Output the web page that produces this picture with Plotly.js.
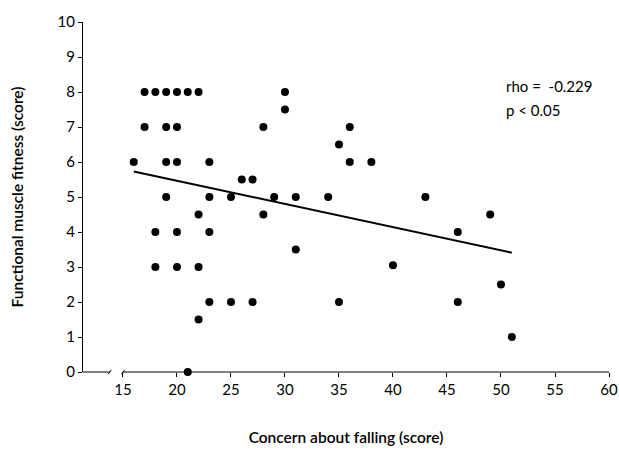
<!DOCTYPE html>
<html>
<head>
<meta charset="utf-8">
<script src="https://cdn.plot.ly/plotly-3.0.1.min.js"></script>
<style>html,body{margin:0;padding:0;background:#fff}#chart{width:619px;height:450px}</style>
</head>
<body>
<div id="chart"></div>
<script>
// Concern about falling (score)
var concernScores = [
  17,18,19,20,21,22,30,
  30,
  17,19,20,28,36,
  35,
  16,19,20,23,36,38,
  26,27,
  19,23,25,29,31,34,43,
  22,28,49,
  18,20,23,46,
  31,
  18,20,22,40,
  50,
  23,25,27,35,46,
  22,
  51,
  21
];
// Functional muscle fitness (score)
var fitnessScores = [
  8,8,8,8,8,8,8,
  7.5,
  7,7,7,7,7,
  6.5,
  6,6,6,6,6,6,
  5.5,5.5,
  5,5,5,5,5,5,5,
  4.5,4.5,4.5,
  4,4,4,4,
  3.5,
  3,3,3,3.05,
  2.5,
  2,2,2,2,2,
  1.5,
  1,
  0
];
// Regression line endpoints
var fitX = [16, 51];
var fitY = [5.73, 3.41];
var xTicks = [15,20,25,30,35,40,45,50,55,60];
var yTicks = [0,1,2,3,4,5,6,7,8,9,10];
var statsText = ["rho =  -0.229", "p < 0.05"];

var FONT = "Lato, 'Open Sans', sans-serif";

var traces = [
  {x: concernScores, y: fitnessScores, type: 'scatter', mode: 'markers',
   marker: {color: '#000', size: 8}, cliponaxis: false, hoverinfo: 'x+y'},
  {x: fitX, y: fitY, type: 'scatter', mode: 'lines',
   line: {color: '#000', width: 2}, hoverinfo: 'skip'}
];

var layout = {
  width: 619, height: 450,
  margin: {l: 83, r: 10, t: 22, b: 78},
  paper_bgcolor: '#fff', plot_bgcolor: '#fff',
  showlegend: false,
  font: {family: FONT, size: 15, color: '#000'},
  xaxis: {
    range: [11.3, 60], tickvals: xTicks, ticktext: xTicks.map(String),
    showgrid: false, zeroline: false, showline: false,
    ticks: 'outside', ticklen: 4, tickcolor: '#000', tickwidth: 1,
    tickfont: {family: FONT, size: 15, color: '#000'},
    title: {text: 'Concern about falling (score)', standoff: 35,
            font: {family: FONT, size: 15.5, color: '#000', weight: 600}},
    automargin: false
  },
  yaxis: {
    range: [0, 10], tickvals: yTicks,
    showgrid: false, zeroline: false, showline: true, linecolor: '#000', linewidth: 1,
    ticks: 'outside', ticklen: 4, tickcolor: '#000', tickwidth: 1,
    tickfont: {family: FONT, size: 15, color: '#000'},
    title: {text: 'Functional muscle fitness (score)', standoff: 30,
            font: {family: FONT, size: 15.5, color: '#000', weight: 600}},
    automargin: false
  },
  shapes: [
    {type: 'line', xref: 'paper', yref: 'paper', x0: 0, x1: 0.051, y0: 0, y1: 0,
     line: {color: '#000', width: 1}},
    {type: 'line', xref: 'paper', yref: 'paper', x0: 0.076, x1: 1, y0: 0, y1: 0,
     line: {color: '#000', width: 1}},
    {type: 'line', xref: 'paper', yref: 'paper', x0: 0.048, x1: 0.054, y0: -0.006, y1: 0.006,
     line: {color: '#000', width: 1}},
    {type: 'line', xref: 'paper', yref: 'paper', x0: 0.073, x1: 0.079, y0: -0.006, y1: 0.006,
     line: {color: '#000', width: 1}}
  ],
  annotations: [
    {xref: 'paper', yref: 'paper', x: 0.80, y: 0.818, xanchor: 'left', yanchor: 'middle',
     text: statsText[0], showarrow: false, font: {family: FONT, size: 15, color: '#000'}},
    {xref: 'paper', yref: 'paper', x: 0.80, y: 0.748, xanchor: 'left', yanchor: 'middle',
     text: statsText[1], showarrow: false, font: {family: FONT, size: 15, color: '#000'}}
  ]
};

Plotly.newPlot('chart', traces, layout, {staticPlot: true, displayModeBar: false});
</script>
</body>
</html>
